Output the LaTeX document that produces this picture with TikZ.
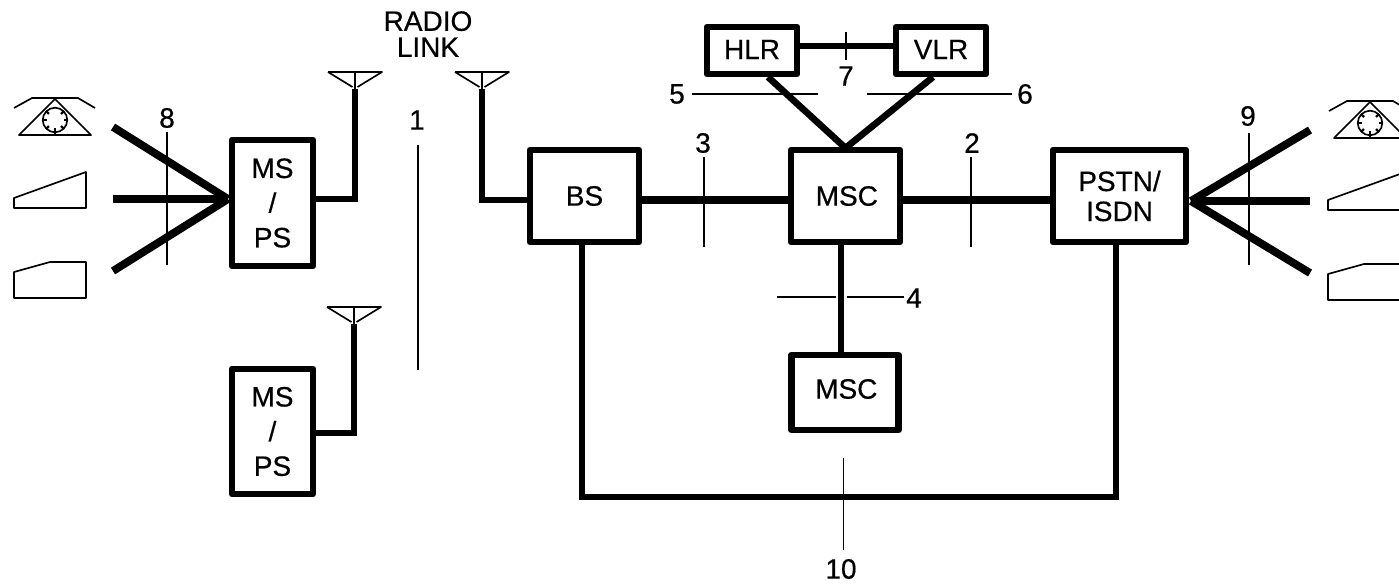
\documentclass[tikz,border=0pt]{standalone}
\usepackage{fontspec}
\setmainfont[FakeBold=0.35,AutoFakeBold=false]{Liberation Sans}
\newfontfamily\heavy[FakeBold=0.5]{Liberation Sans}
\tikzset{
  blk/.style={draw=black,line width=5pt,fill=none,inner sep=0pt,outer sep=0pt,align=center,
    font=\heavy\fontsize{21}{26}\selectfont,line join=round},
  thick line/.style={line width=5.9pt,line cap=butt,line join=miter},
  mid line/.style={line width=5pt,line cap=butt,line join=miter},
  thin line/.style={line width=1.2pt,line cap=butt},
  lab/.style={inner sep=0pt,outer sep=0pt,font=\heavy\fontsize{21}{22}\selectfont,align=center},
  term/.style={line width=1.25pt,line join=round},
  phone/.pic={
    \draw[term,fill=none] (14,108) -- (32,98) -- (78,98) -- (95,108);
    \draw[term] (55,99) -- (91,135) -- (19,135) -- cycle;
    \draw[term] (55,120) circle[radius=9.2pt];
    \foreach \a in {0,45,90,135,180,225,315}
      \draw[line width=1.8pt] ({55+12*cos(\a)},{120+12*sin(\a)}) -- ({55+8.5*cos(\a)},{120+8.5*sin(\a)});
    \draw[line width=1.8pt] (55,128) -- (55,135);
  },
  slopebox/.pic={\draw[term] (14,208) -- (14,198) -- (86,172) -- (86,208) -- cycle;},
  deskbox/.pic={\draw[term] (14,298) -- (14,272) -- (50,262) -- (86,262) -- (86,298) -- cycle;},
  aerial/.pic={
    \draw[term] (-27,0) -- (27,0) -- (2.5,15);
    \draw[term] (-27,0) -- (-2.5,15);
    \draw[term] (0,0) -- (0,17);
  }
}
\begin{document}
\begin{tikzpicture}[x=0.75pt,y=-0.75pt]
\useasboundingbox (0,0) rectangle (1399,587);
\begin{scope}
\clip (0,0) rectangle (1399,587);
% terminal symbols
\pic at (0,0) {phone};
\pic at (0,0) {slopebox};
\pic at (0,0) {deskbox};
\pic at (1315,3) {phone};
\pic at (1314,2) {slopebox};
\pic at (1314,2) {deskbox};

% blocks
\node[blk,minimum width=81*0.75pt,minimum height=126*0.75pt] (ms1) at (272.5,203) {MS\\/\\PS};
\node[blk,minimum width=81*0.75pt,minimum height=125*0.75pt] (ms2) at (272.5,431.5) {MS\\/\\PS};
\node[blk,minimum width=109*0.75pt,minimum height=92*0.75pt] (bs) at (584.5,196) {BS};
\node[blk,minimum width=109*0.75pt,minimum height=92*0.75pt] (msc) at (845.5,196) {\hspace*{2pt}\raisebox{-3pt}{MSC}};
\node[blk,minimum width=107*0.75pt,minimum height=75*0.75pt] (mscb) at (845,392.5) {\hspace*{2pt}\raisebox{5.5pt}{MSC}};
\node[blk,minimum width=133*0.75pt,minimum height=92*0.75pt,font=\heavy\fontsize{21}{22.5}\selectfont] (pstn) at (1119.5,196) {PSTN/\\ISDN};
\node[blk,minimum width=90*0.75pt,minimum height=47*0.75pt] (hlr) at (752,50.5) {\raisebox{1.5pt}{HLR}};
\node[blk,minimum width=90*0.75pt,minimum height=47*0.75pt] (vlr) at (941,50.5) {\raisebox{1.5pt}{VLR}};

% named free ends
\coordinate (a1) at (355,89);
\coordinate (a2) at (482,89);
\coordinate (a3) at (354,324);
\coordinate (j1) at (355,199);
\coordinate (j2) at (482,200);
\coordinate (j3) at (354,433);
\coordinate (fanl) at (228,199);
\coordinate (tl1) at (113,127);
\coordinate (tl2) at (113,199);
\coordinate (tl3) at (113,271);
\coordinate (fanr) at (1191,201);
\coordinate (tr1) at (1310,130);
\coordinate (tr2) at (1310,201);
\coordinate (tr3) at (1310,273);
\coordinate (lb) at (582,497);
\coordinate (rb) at (1116,497);
\coordinate (apex) at (845.5,148);

% aerials
\pic at (355,72) {aerial};
\pic at (482,72) {aerial};
\pic at (354,307) {aerial};

% thick connectors
\draw[mid line] (ms1.east |- j1) -- (j1) -- (a1);
\draw[mid line] (bs.west |- j2) -- (j2) -- (a2);
\draw[mid line] (ms2.east |- j3) -- (j3) -- (a3);
\draw[thick line] (tl1) -- (fanl);
\draw[thick line] (tl2) -- (fanl);
\draw[thick line] (tl3) -- (fanl);
\draw[thick line] (tr1) -- (fanr);
\draw[thick line] (tr2) -- (fanr);
\draw[thick line] (tr3) -- (fanr);
\draw[thick line] (bs.east |- 0,200) -- (msc.west |- 0,200);
\draw[thick line] (msc.east |- 0,200) -- (pstn.west |- 0,200);
\draw[mid line] (hlr.east |- 0,46) -- (vlr.west |- 0,46);
\draw[mid line] (768,77) -- (apex);
\draw[mid line] (933,77) -- (apex);
\draw[mid line] (msc.south -| 841,0) -- (mscb.north -| 841,0);
\draw[mid line] (bs.south -| lb) -- (lb) -- (rb) -- (pstn.south -| rb);

% thin markers and numbers
\node[lab,font=\heavy\fontsize{21}{19.5}\selectfont] (radio) at (428,34) {RADIO\\LINK};
\node[lab] (n1) at (417,120) {1};
\draw[thin line] (418,145) -- (418,370);
\node[lab] (n8) at (167,118) {8};
\draw[thin line] (167,132) -- (167,265);
\node[lab] (n9) at (1248,116) {9};
\draw[thin line] (1249,133) -- (1249,265);
\node[lab] (n3) at (703,143) {3};
\draw[thin line] (704,157) -- (704,247);
\node[lab] (n2) at (972,143) {2};
\draw[thin line] (971,157) -- (971,247);
\node[lab] (n7) at (846,76) {7};
\draw[thin line] (846,32) -- (846,60);
\node[lab] (n5) at (677,94) {5};
\draw[thin line] (692,94) -- (818,94);
\node[lab] (n6) at (1025,94) {6};
\draw[thin line] (867,94) -- (1012,94);
\node[lab] (n4) at (914,298) {4};
\draw[thin line] (777,297) -- (836,297);
\draw[thin line] (847,297) -- (904,297);
\node[lab] (n10) at (841,569) {10};
\draw[thin line] (843.5,458) -- (843.5,550);
\end{scope}
\end{tikzpicture}
\end{document}
